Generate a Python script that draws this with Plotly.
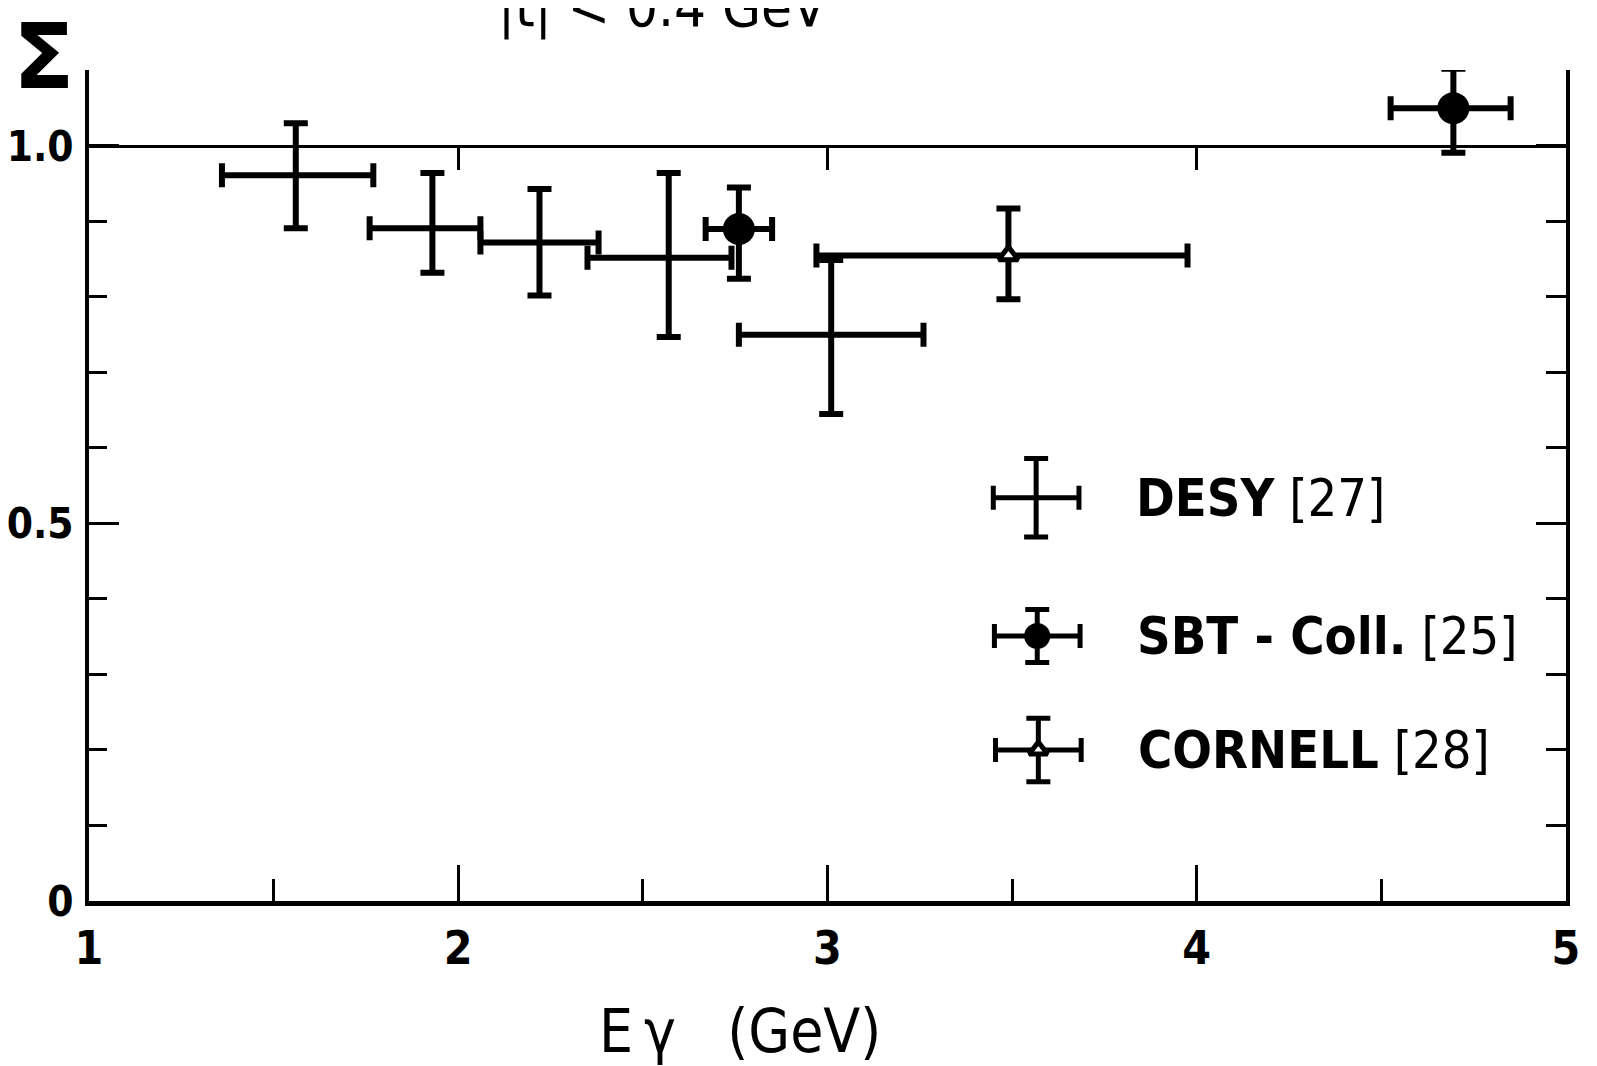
import plotly.graph_objects as go

# DESY [27]
desy_e = [1.56, 1.93, 2.22, 2.57, 3.01]
desy_e_lo = [0.20, 0.17, 0.16, 0.22, 0.25]
desy_e_hi = [0.21, 0.13, 0.16, 0.17, 0.25]
desy_s = [0.961, 0.891, 0.872, 0.852, 0.750]
desy_s_hi = [0.069, 0.073, 0.071, 0.112, 0.099]
desy_s_lo = [0.070, 0.059, 0.070, 0.105, 0.105]

# SBT - Coll. [25]
sbt_e = [2.76, 4.695]
sbt_e_lo = [0.09, 0.17]
sbt_e_hi = [0.09, 0.155]
sbt_s = [0.890, 1.050]
sbt_s_hi = [0.055, 0.052]
sbt_s_lo = [0.066, 0.059]

# CORNELL [28]
cor_e = [3.49]
cor_e_lo = [0.52]
cor_e_hi = [0.485]
cor_s = [0.855]
cor_s_hi = [0.062]
cor_s_lo = [0.058]

# legend keys (drawn inside the frame, in data units)
key_x = [3.565, 3.568, 3.571]
key_y = [0.534, 0.351, 0.200]
key_xerr = 0.116
key_yerr = [0.052, 0.035, 0.042]
key_labels = ['<b>DESY</b> [27]', '<b>SBT - Coll.</b> [25]', '<b>CORNELL</b> [28]']

FONT = 'DejaVu Sans Condensed, Liberation Sans Narrow, sans-serif'
BAR_W = 6
CAP = 12


def err(arr, arrminus, thick=BAR_W):
    return dict(type='data', symmetric=False, array=arr, arrayminus=arrminus,
                color='black', thickness=thick, width=CAP)


fig = go.Figure()

fig.add_trace(go.Scatter(
    x=desy_e, y=desy_s, mode='markers',
    marker=dict(size=1, color='black'),
    error_x=err(desy_e_hi, desy_e_lo), error_y=err(desy_s_hi, desy_s_lo),
    name='DESY [27]'))
fig.add_trace(go.Scatter(
    x=sbt_e, y=sbt_s, mode='markers',
    marker=dict(size=32, color='black'),
    error_x=err(sbt_e_hi, sbt_e_lo), error_y=err(sbt_s_hi, sbt_s_lo),
    name='SBT - Coll. [25]'))
fig.add_trace(go.Scatter(
    x=cor_e, y=cor_s, mode='markers',
    marker=dict(size=17, symbol='triangle-up', color='white',
                line=dict(color='black', width=5)),
    error_x=err(cor_e_hi, cor_e_lo), error_y=err(cor_s_hi, cor_s_lo),
    name='CORNELL [28]'))

# legend keys, on the overlay axes so that the top line and right frame get drawn
key_markers = [
    dict(size=1, color='black'),
    dict(size=26, color='black'),
    dict(size=16, symbol='triangle-up', color='white', line=dict(color='black', width=5)),
]
for i in range(3):
    fig.add_trace(go.Scatter(
        x=[key_x[i]], y=[key_y[i]], xaxis='x2', yaxis='y2', mode='markers',
        marker=key_markers[i],
        error_x=err([key_xerr], [key_xerr], 5), error_y=err([key_yerr[i]], [key_yerr[i]], 5),
        hoverinfo='skip'))
    fig.add_annotation(x=key_x[i] + 0.265, y=key_y[i], xref='x', yref='y',
                       text=key_labels[i], showarrow=False, xanchor='left',
                       yanchor='middle', font=dict(size=52, family=FONT, color='black'))

# texts around the frame
fig.add_annotation(xref='paper', yref='paper', x=-0.031, y=1.016, text='<b>\u03a3</b>',
                   showarrow=False, xanchor='center', yanchor='middle',
                   font=dict(size=90, family='DejaVu Sans', color='black'))
fig.add_annotation(xref='paper', yref='paper', x=0.396, y=1.081,
                   text='|t| < 0.4 GeV<sup>2</sup>', showarrow=False, yanchor='middle',
                   font=dict(size=56, family=FONT, color='black'))
fig.add_annotation(xref='paper', yref='paper', x=0.441, y=0, yshift=-130,
                   text='E\u2009\u03b3\u00a0\u00a0\u00a0(GeV)', showarrow=False, yanchor='middle',
                   font=dict(size=60, family=FONT, color='black'))

YR = [0, 1.1005]
TICKFONT = dict(family=FONT, size=42, color='black', weight='bold')
# the page body adds an 8 px offset, so the figure is 8 px smaller on each axis
fig.update_layout(
    width=1589, height=1058,
    margin=dict(l=81, r=31, t=62, b=165, autoexpand=False),
    paper_bgcolor='white', plot_bgcolor='white',
    showlegend=False,
    font=dict(family=FONT, size=46, color='black'),
    xaxis=dict(range=[1, 5], showgrid=False, zeroline=False, automargin=False,
               showline=True, linecolor='black', linewidth=5,
               ticks='inside', tickvals=[1, 2, 3, 4, 5], ticklen=36, tickwidth=3,
               tickcolor='black', ticklabelstandoff=3,
               tickfont=dict(family=FONT, size=46, color='black', weight='bold'),
               minor=dict(tickmode='linear', tick0=1, dtick=0.5, ticks='inside',
                          ticklen=22, tickwidth=3, tickcolor='black', showgrid=False)),
    xaxis2=dict(range=[1, 5], overlaying='x', anchor='free', position=1 / YR[1],
                side='top', showgrid=False, zeroline=False, showline=True,
                linecolor='black', linewidth=3, ticks='inside', tickvals=[2, 3, 4],
                ticklen=22, tickwidth=3, tickcolor='black', showticklabels=False,
                automargin=False),
    yaxis=dict(range=YR, showgrid=False, zeroline=False, automargin=False,
               showline=True, linecolor='black', linewidth=4,
               ticks='inside', tickvals=[0, 0.5, 1.0], ticktext=['0', '0.5', '1.0'],
               ticklen=30, tickwidth=3, tickcolor='black', ticklabelstandoff=3,
               tickfont=TICKFONT,
               minor=dict(tickmode='linear', tick0=0, dtick=0.1, ticks='inside',
                          ticklen=18, tickwidth=3, tickcolor='black', showgrid=False)),
    yaxis2=dict(range=YR, overlaying='y', side='right', anchor='x',
                showgrid=False, zeroline=False, showline=True, linecolor='black',
                linewidth=4, ticks='inside', tickvals=[0, 0.5, 1.0], ticklen=30,
                tickwidth=3, tickcolor='black', showticklabels=False, automargin=False,
                minor=dict(tickmode='linear', tick0=0, dtick=0.1, ticks='inside',
                           ticklen=20, tickwidth=3, tickcolor='black', showgrid=False)),
)

fig.write_html("out.html")
